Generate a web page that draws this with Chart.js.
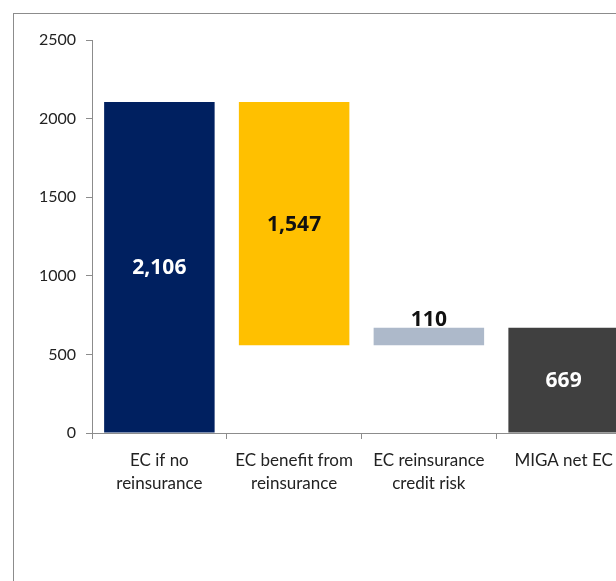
<!DOCTYPE html>
<html>
<head>
<meta charset="utf-8">
<script src="https://cdn.jsdelivr.net/npm/chart.js@4"></script>
<style>
    html, body { margin: 0; padding: 0; background: #fff; overflow: hidden; }
    #marco { position: absolute; left: 13px; top: 13px; width: 720px; height: 700px; border: 1px solid #8c8c8c; }
    #lienzo { position: absolute; left: 0; top: 0; }
</style>
</head>
<body>
<div id="marco"></div>
<canvas id="lienzo" width="660" height="581"></canvas>
<script>
// datos del gráfico (cascada)
const categorias = [
    ['EC if no', 'reinsurance'],
    ['EC benefit from', 'reinsurance'],
    ['EC reinsurance', 'credit risk'],
    ['MIGA net EC']
];
const inicio = [0, 559, 559, 0];
const fin = [2106, 2106, 669, 669];
const etiquetas = ['2,106', '1,547', '110', '669'];
const colores = ['#002060', '#ffc000', '#adb9ca', '#404040'];
const coloresTexto = ['#ffffff', '#111111', '#111111', '#ffffff'];
const ticksY = [0, 500, 1000, 1500, 2000, 2500];

const fuente = 'Lato, "Liberation Sans", sans-serif';

const etiquetasPlugin = {
    id: 'etiquetas',
    afterDatasetsDraw(chart) {
        const ctx = chart.ctx;
        const meta = chart.getDatasetMeta(0);
        ctx.save();
        ctx.font = 'bold 21px "Open Sans", sans-serif';
        ctx.textAlign = 'center';
        meta.data.forEach((barra, i) => {
            ctx.fillStyle = coloresTexto[i];
            const arriba = Math.min(barra.y, barra.base);
            const abajo = Math.max(barra.y, barra.base);
            if (abajo - arriba < 40) {
                // barra pequeña: texto encima
                ctx.textBaseline = 'bottom';
                ctx.fillText(etiquetas[i], barra.x, arriba + 3);
            } else {
                ctx.textBaseline = 'middle';
                ctx.fillText(etiquetas[i], barra.x, (arriba + abajo) / 2 + 1);
            }
        });
        ctx.restore();
    }
};

new Chart(document.getElementById('lienzo'), {
    type: 'bar',
    data: {
        labels: categorias,
        datasets: [{
            label: '',
            data: inicio.map((v, i) => [v, fin[i]]),
            backgroundColor: colores,
            borderWidth: 0,
            barPercentage: 0.82,
            categoryPercentage: 1
        }]
    },
    options: {
        responsive: false,
        animation: false,
        layout: { padding: { top: 40, right: 29, left: 0, bottom: 0 } },
        plugins: {
            legend: { display: false },
            tooltip: { enabled: false }
        },
        scales: {
            x: {
                grid: { offset: true, drawOnChartArea: false, tickLength: 6, color: '#8c8c8c' },
                border: { color: '#8c8c8c' },
                ticks: {
                    color: '#222',
                    font: { family: fuente, size: 17, lineHeight: 1.35 },
                    maxRotation: 0,
                    autoSkip: false,
                    padding: 10
                },
                afterFit(scale) { scale.height = 148; }
            },
            y: {
                min: 0,
                max: 2500,
                afterBuildTicks(scale) { scale.ticks = ticksY.map(v => ({ value: v })); },
                grid: { drawOnChartArea: false, tickLength: 6, color: '#8c8c8c' },
                border: { color: '#8c8c8c' },
                ticks: {
                    color: '#222',
                    font: { family: fuente, size: 16 },
                    padding: 10,
                    callback: v => String(v)
                },
                afterFit(scale) { scale.width = 92; }
            }
        }
    },
    plugins: [etiquetasPlugin]
});
</script>
</body>
</html>
